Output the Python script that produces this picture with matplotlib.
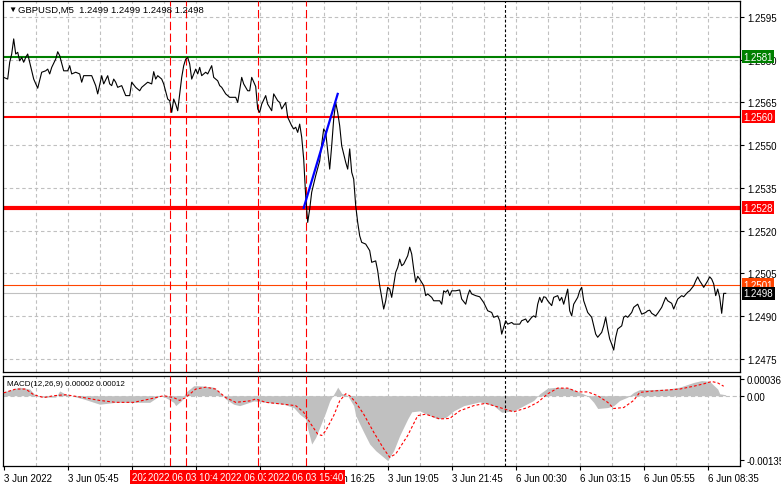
import matplotlib
matplotlib.use('Agg')
import matplotlib.pyplot as plt
import matplotlib.transforms as mtransforms

plt.rcParams['font.family'] = ['Liberation Sans', 'DejaVu Sans']
plt.rcParams['lines.scale_dashes'] = False

# --- GBPUSD M5 closes (bar index, 5 min per bar, bar 0 = 3 Jun 03:05) ---
bars = [0, 2, 3, 4, 5, 6, 7, 8, 9, 10,
        11, 12, 13, 15, 17, 19, 21, 22, 23, 24,
        26, 27, 28, 30, 32, 33, 34, 36, 38, 39,
        40, 42, 44, 46, 47, 49, 50, 52, 53, 54,
        55, 56, 57, 59, 61, 63, 64, 66, 68, 69,
        72, 74, 75, 76, 77, 79, 80, 82, 83, 84,
        85, 86, 87, 89, 90, 91, 92, 93, 94, 96,
        97, 98, 99, 101, 102, 104, 105, 107, 108, 109,
        111, 113, 114, 116, 117, 119, 120, 122, 123, 124,
        126, 127, 128, 129, 131, 132, 134, 135, 137, 138,
        139, 141, 142, 144, 145, 146, 147, 148, 149, 150,
        151, 152, 153, 154, 156, 158, 159, 160, 161, 162,
        163, 164, 165, 166, 167, 168, 169, 171, 172, 173,
        174, 175, 176, 177, 178, 179, 181, 183, 184, 186,
        187, 188, 190, 191, 192, 193, 194, 196, 197, 198,
        199, 200, 202, 203, 204, 205, 206, 207, 208, 210,
        211, 212, 214, 215, 218, 219, 220, 221, 222, 223,
        224, 226, 228, 229, 231, 232, 233, 234, 236, 238,
        240, 242, 244, 245, 247, 248, 249, 250, 251, 252,
        254, 255, 258, 259, 261, 262, 264, 265, 266, 267,
        268, 269, 270, 271, 272, 274, 275, 277, 278, 279,
        280, 282, 283, 284, 285, 287, 288, 289, 290, 292,
        294, 295, 296, 297, 299, 300, 301, 302, 303, 304,
        305, 306, 307, 309, 310, 311, 312, 314, 315, 317,
        318, 319, 321, 322, 323, 324, 326, 327, 329, 330,
        331, 332, 334, 335, 336, 337, 339, 340, 342, 343,
        345, 346, 347, 348, 349, 350, 352, 353, 354, 355,
        356, 357, 358, 359, 360, 361]
close = [1.25738, 1.25732, 1.25791, 1.25820, 1.25873, 1.25820, 1.25826, 1.25796, 1.25808, 1.25791,
         1.25808, 1.25820, 1.25791, 1.25732, 1.25700, 1.25756, 1.25761, 1.25767, 1.25750, 1.25773,
         1.25802, 1.25828, 1.25814, 1.25761, 1.25761, 1.25779, 1.25750, 1.25756, 1.25750, 1.25721,
         1.25744, 1.25744, 1.25744, 1.25709, 1.25680, 1.25744, 1.25715, 1.25744, 1.25715, 1.25709,
         1.25732, 1.25721, 1.25703, 1.25709, 1.25674, 1.25674, 1.25721, 1.25703, 1.25691, 1.25703,
         1.25721, 1.25715, 1.25758, 1.25732, 1.25744, 1.25732, 1.25715, 1.25662, 1.25656, 1.25615,
         1.25662, 1.25644, 1.25621, 1.25738, 1.25779, 1.25802, 1.25808, 1.25785, 1.25732, 1.25767,
         1.25750, 1.25773, 1.25744, 1.25756, 1.25750, 1.25779, 1.25738, 1.25726, 1.25709, 1.25703,
         1.25680, 1.25668, 1.25668, 1.25668, 1.25650, 1.25738, 1.25715, 1.25691, 1.25691, 1.25738,
         1.25706, 1.25627, 1.25615, 1.25644, 1.25674, 1.25644, 1.25621, 1.25680, 1.25656, 1.25650,
         1.25627, 1.25650, 1.25598, 1.25568, 1.25557, 1.25563, 1.25545, 1.25574, 1.25528, 1.25451,
         1.25320, 1.25229, 1.25276, 1.25335, 1.25393, 1.25445, 1.25504, 1.25557, 1.25545, 1.25481,
         1.25416, 1.25498, 1.25592, 1.25650, 1.25615, 1.25568, 1.25498, 1.25440, 1.25416, 1.25487,
         1.25405, 1.25381, 1.25288, 1.25229, 1.25182, 1.25159, 1.25153, 1.25130, 1.25089, 1.25094,
         1.25059, 1.25007, 1.24925, 1.24954, 1.25001, 1.24995, 1.24966, 1.25054, 1.25071, 1.25100,
         1.25077, 1.25083, 1.25112, 1.25142, 1.25118, 1.25065, 1.25019, 1.25040, 1.25030, 1.25007,
         1.24972, 1.24978, 1.24966, 1.24954, 1.24954, 1.24942, 1.24989, 1.24984, 1.24992, 1.24972,
         1.24989, 1.24989, 1.24992, 1.24960, 1.24942, 1.24972, 1.24992, 1.24978, 1.24972, 1.24968,
         1.24948, 1.24919, 1.24913, 1.24896, 1.24901, 1.24884, 1.24837, 1.24861, 1.24884, 1.24872,
         1.24878, 1.24872, 1.24872, 1.24884, 1.24890, 1.24878, 1.24896, 1.24901, 1.24896, 1.24942,
         1.24966, 1.24948, 1.24968, 1.24966, 1.24954, 1.24937, 1.24966, 1.24972, 1.24954, 1.24966,
         1.24942, 1.24995, 1.24919, 1.24901, 1.24942, 1.24966, 1.24989, 1.25001, 1.24954, 1.24913,
         1.24896, 1.24866, 1.24837, 1.24826, 1.24843, 1.24866, 1.24896, 1.24855, 1.24820, 1.24802,
         1.24781, 1.24826, 1.24855, 1.24866, 1.24896, 1.24901, 1.24896, 1.24913, 1.24931, 1.24942,
         1.24925, 1.24907, 1.24913, 1.24919, 1.24921, 1.24910, 1.24901, 1.24910, 1.24931, 1.24948,
         1.24966, 1.24954, 1.24945, 1.24925, 1.24942, 1.24960, 1.24972, 1.24968, 1.24984, 1.24989,
         1.25007, 1.25024, 1.25038, 1.25024, 1.25013, 1.25001, 1.25024, 1.25038, 1.25030, 1.25013,
         1.24972, 1.24995, 1.24966, 1.24910, 1.24980, 1.24980]

# MACD(12,26,9) histogram and signal
hist_bars = [0, 8, 13, 16, 20, 26, 28, 31, 40, 48, 56, 73, 78, 81, 85, 86, 89, 91, 95, 98,
             105, 108, 111, 115, 118, 125, 131, 140, 145, 148, 151, 152, 154, 156, 158, 161, 163, 166, 167, 169,
             172, 175, 176, 180, 183, 186, 190, 192, 195, 198, 202, 204, 208, 213, 217, 221, 225, 230, 238, 245,
             249, 255, 260, 265, 268, 272, 277, 283, 288, 292, 295, 297, 302, 305, 308, 312, 315, 318, 325, 332,
             338, 345, 349, 353, 357, 358, 361]
hist_vals = [0.00008, 0.00018, 0.00014, 0.0, -0.00003, -0.00003, 0.0001, 0.00003, -0.00007, -0.00018,
             -0.00014, -0.00014, 0.0, -0.00004, -0.00014, -0.00021, -0.0001, 0.00007, 0.00021, 0.00021,
             0.00018, 0.00007, -0.00007, -0.00018, -0.00021, -0.00011, -0.00014, -0.00018, -0.00025, -0.00039,
             -0.00049, -0.0007, -0.00102, -0.00088, -0.00067, -0.00035, -0.00011, 0.0001, 0.00018, 0.00005,
             0.0, -0.00021, -0.00042, -0.00077, -0.00102, -0.00116, -0.0013, -0.00137, -0.00116, -0.00084,
             -0.00049, -0.00034, -0.00032, -0.00042, -0.00049, -0.00046, -0.00032, -0.00021, -0.00013, -0.00021,
             -0.00035, -0.00032, -0.00021, -0.0001, 0.00004, 0.00016, 0.00018, 0.00016, 0.00007, 0.0,
             -0.00014, -0.00027, -0.00025, -0.00021, -0.0001, -0.00003, 0.00007, 0.00013, 0.00013, 0.00014,
             0.00018, 0.00028, 0.00032, 0.0003, 0.00014, 0.00004, 0.00002]
sig_bars = [0, 6, 11, 15, 20, 25, 31, 40, 48, 56, 65, 73, 80, 85, 88, 91, 96, 101, 106, 111,
            116, 123, 126, 131, 140, 146, 150, 153, 157, 159, 161, 165, 168, 171, 173, 176, 180, 185, 190, 193,
            196, 202, 207, 211, 218, 223, 228, 235, 241, 248, 255, 262, 267, 272, 277, 282, 287, 292, 297, 302,
            305, 310, 315, 318, 325, 332, 338, 345, 350, 354, 357, 360]
sig_vals = [0.00006, 0.00014, 0.00014, 0.00002, -0.00004, 0.0, 0.00002, -0.00004, -0.0001, -0.00014,
            -0.00014, -0.00007, 0.0, -0.00004, -0.0001, -0.00004, 0.00014, 0.00018, 0.00014, -0.00004,
            -0.00014, -0.00011, -0.00007, -0.00014, -0.00018, -0.00021, -0.00035, -0.00056, -0.00081, -0.00084,
            -0.00074, -0.00042, -0.00011, 0.00004, 0.0, -0.00014, -0.00039, -0.00077, -0.00112, -0.0013,
            -0.00123, -0.00084, -0.00042, -0.00039, -0.00049, -0.00048, -0.00032, -0.00021, -0.00016, -0.00025,
            -0.00034, -0.00025, -0.00014, 0.00004, 0.00016, 0.00016, 0.00008, 0.00008, 0.0, -0.00014,
            -0.00027, -0.00025, -0.0001, 0.00007, 0.0001, 0.00012, 0.00014, 0.0002, 0.00025, 0.0003,
            0.00027, 0.0002]

# levels drawn on the chart
levels = [1.2581, 1.2560, 1.2528]
level_colors = ['#008000', '#ff0000', '#ff0000']
level_widths = [1.5, 1.5, 3.0]
ask_price = 1.2501
bid_price = 1.2498

trend_bars = [150, 167]
trend_prices = [1.2528, 1.2568]

event_bars = [83, 91, 127, 151]
event_labels = ['2022.06.03 10:00', '2022.06.03 10:40', '2022.06.03 13:40', '2022.06.03 15:40']
session_bar = 250.65

price_ticks = [1.2475, 1.2490, 1.2505, 1.2520, 1.2535, 1.2550, 1.2565, 1.2580, 1.2595]
macd_ticks = [0.00036, 0.0, -0.00135]
macd_tick_labels = ['0.00036', '0.00', '-0.00135']
time_bars = [0, 32, 64, 96, 128, 160, 192, 224, 256, 288, 320, 352]
time_labels = ['3 Jun 2022', '3 Jun 05:45', '3 Jun 08:25', '3 Jun 11:05', '3 Jun 13:45', '3 Jun 16:25',
               '3 Jun 19:05', '3 Jun 21:45', '6 Jun 00:30', '6 Jun 03:15', '6 Jun 05:55', '6 Jun 08:35']

W, H = 781, 489
fig = plt.figure(figsize=(W / 100, H / 100), dpi=100)
fig.patch.set_facecolor('white')
ax = fig.add_axes([2.7 / W, 1 - 373.3 / H, (740 - 2.7) / W, (373.3 - 2) / H])
ax2 = fig.add_axes([2.7 / W, 1 - 466.7 / H, (740 - 2.7) / W, 90 / H])

grid_c = '#c0c0c0'
for a in (ax, ax2):
    a.set_xlim(-0.5, 368.15)
    for b in range(16, 369, 16):
        a.axvline(b, color=grid_c, lw=0.8, dashes=(2.5, 2), zorder=0)
    for s in a.spines.values():
        s.set_linewidth(0.9)
        s.set_color('black')
    a.yaxis.tick_right()
    a.tick_params(axis='y', length=3, width=0.8, pad=2, labelsize=7, colors='black')

# main price panel
ax.set_ylim(1.24703, 1.26006)
for p in price_ticks:
    ax.axhline(p, color=grid_c, lw=0.8, dashes=(2.5, 2), zorder=0)
ax.set_yticks(price_ticks)
ax.set_yticklabels(['%.4f' % p for p in price_ticks])
ax.set_xticks([])

for lv, c, w in zip(levels, level_colors, level_widths):
    ax.axhline(lv, color=c, lw=w, zorder=2)
ax.axhline(ask_price, color='#ff4500', lw=0.8, zorder=2)
ax.axhline(bid_price, color='#c0c0c0', lw=0.8, zorder=2)

for b in event_bars:
    ax.axvline(b, color='#ff0000', lw=0.8, dashes=(6, 2.5), zorder=3)
    ax2.axvline(b, color='#ff0000', lw=0.8, dashes=(6, 2.5), zorder=3)
ax.axvline(session_bar, color='black', lw=0.8, dashes=(2, 1.5), zorder=3)
ax2.axvline(session_bar, color='black', lw=0.8, dashes=(2, 1.5), zorder=3)

ax.plot(bars, close, color='black', lw=0.8, zorder=4)
ax.plot(trend_bars, trend_prices, color='#0000ff', lw=1.6, zorder=5)

# price boxes on the right scale
trans = mtransforms.blended_transform_factory(ax.transAxes, ax.transData)
boxes = [(levels[0], '#008000'), (levels[1], '#ff0000'), (levels[2], '#ff0000'),
         (ask_price, '#ff4500'), (bid_price, 'black')]
for val, c in boxes:
    ax.text(1 + 3.5 / 737, val, '%.4f' % val, transform=trans, ha='left', va='center',
            fontsize=7, color='white', clip_on=False, zorder=10,
            bbox=dict(boxstyle='square,pad=0.15', fc=c, ec='none'))

# MACD panel
ax2.set_ylim(-0.001477, 0.000422)
ax2.axhline(0, color=grid_c, lw=0.8, dashes=(3, 2), zorder=0.5)
ax2.fill_between(hist_bars, hist_vals, 0, color='#c0c0c0', lw=0, zorder=1)
ax2.plot(sig_bars, sig_vals, color='#ff0000', lw=0.8, dashes=(2, 1.5), zorder=4)
ax2.set_yticks(macd_ticks)
ax2.set_yticklabels(macd_tick_labels)
ax2.set_xticks(time_bars)
ax2.set_xticklabels(time_labels)
for lbl in ax2.get_xticklabels():
    lbl.set_horizontalalignment('left')
ax2.tick_params(axis='x', length=3, width=0.8, pad=2, labelsize=7)

btrans = mtransforms.blended_transform_factory(ax2.transData, ax2.transAxes)
for b, t in zip(event_bars, event_labels):
    ax2.text(b, -0.125, t, transform=btrans, ha='center', va='center', fontsize=7,
             color='white', clip_on=False, zorder=10,
             bbox=dict(boxstyle='square,pad=0.2', fc='#ff0000', ec='none'))

fig.text(7 / W, 1 - 385 / H, 'MACD(12,26,9) 0.00002 0.00012', fontsize=5.8, va='center')
fig.text(8 / W, 1 - 10 / H, '\u25bc', fontsize=6, va='center')
fig.text(18 / W, 1 - 10 / H, 'GBPUSD,M5  1.2499 1.2499 1.2498 1.2498', fontsize=6.8, va='center')

fig.savefig('out.png', dpi=100)
